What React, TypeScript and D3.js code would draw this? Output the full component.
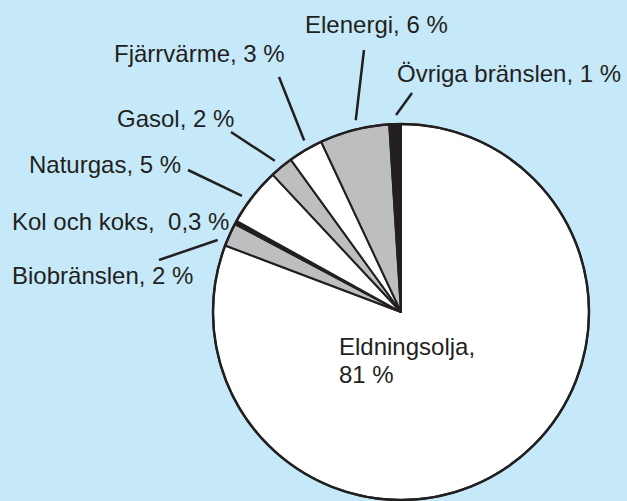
import { useEffect, useRef } from "react";
import * as d3 from "d3";

// energy source shares, clockwise from 12 o'clock
const categories = [
  "Eldningsolja",
  "Biobränslen",
  "Kol och koks",
  "Naturgas",
  "Gasol",
  "Fjärrvärme",
  "Elenergi",
  "Övriga bränslen",
];
const shares = [81, 2, 0.3, 5, 2, 3, 6, 1];
const shareLabels = ["81 %", "2 %", "0,3 %", "5 %", "2 %", "3 %", "6 %", "1 %"];
const fills = ["#ffffff", "#bcbec0", "#231f20", "#ffffff", "#bcbec0", "#ffffff", "#bcbec0", "#231f20"];

// label layout: text anchor (x, baseline y), leader line outer end,
// and where along the slice (0 = start, 1 = end) the leader points
const labelLayout = [
  { x: 339, y: 355, lead: null, at: 0.5 },
  { x: 12, y: 284, lead: [159, 260], at: 0.1 },
  { x: 12, y: 230, lead: null, at: 0.5 },
  { x: 29, y: 173, lead: [188, 170], at: 0.4 },
  { x: 117, y: 127, lead: [231, 132], at: 0.45 },
  { x: 114, y: 62, lead: [279, 77], at: 0.6 },
  { x: 305, y: 33, lead: [364, 50], at: 0.55 },
  { x: 397, y: 82, lead: [412, 93], at: 0.6 },
];

export default function App() {
  const svgRef = useRef<SVGSVGElement>(null);

  useEffect(() => {
    const width = 627;
    const height = 501;
    const cx = 401;
    const cy = 312;
    const radius = 188;
    const ink = "#231f20";

    const svg = d3.select(svgRef.current);
    svg.selectAll("*").remove();
    svg.attr("width", width).attr("height", height);

    svg.append("rect").attr("width", width).attr("height", height).attr("fill", "#c6e9f9");

    const rows = categories.map((name, i) => ({ name, value: shares[i], i }));
    const pie = d3.pie<any>().sort(null).value((d) => d.value);
    const arcs = pie(rows);
    const arc = d3.arc<any>().innerRadius(0).outerRadius(radius);

    const g = svg.append("g").attr("transform", `translate(${cx},${cy})`);

    g.selectAll("path.slice")
      .data(arcs)
      .enter()
      .append("path")
      .attr("class", "slice")
      .attr("d", arc)
      .attr("fill", (d) => fills[d.data.i])
      .attr("stroke", ink)
      .attr("stroke-width", 2)
      .attr("stroke-linejoin", "round");

    // outer rim
    g.append("circle").attr("r", radius).attr("fill", "none").attr("stroke", ink).attr("stroke-width", 2.5);

    // leader lines start just outside the rim
    const leadR = radius + 9;
    const leaders = svg.append("g").attr("stroke", ink).attr("stroke-width", 2.5);
    arcs.forEach((a) => {
      const lay = labelLayout[a.data.i];
      if (!lay.lead) return;
      const ang = a.startAngle + (a.endAngle - a.startAngle) * lay.at;
      leaders
        .append("line")
        .attr("x1", cx + leadR * Math.sin(ang))
        .attr("y1", cy - leadR * Math.cos(ang))
        .attr("x2", lay.lead[0])
        .attr("y2", lay.lead[1]);
    });

    const labels = svg
      .append("g")
      .attr("font-family", "'Liberation Sans', Arial, Helvetica, sans-serif")
      .attr("font-size", 24)
      .attr("fill", ink);

    categories.forEach((name, i) => {
      const lay = labelLayout[i];
      const t = labels.append("text").attr("x", lay.x).attr("y", lay.y).attr("xml:space", "preserve");
      if (i === 0) {
        t.append("tspan").attr("x", lay.x).text(`${name},`);
        t.append("tspan").attr("x", lay.x).attr("dy", 28).text(shareLabels[i]);
      } else if (name === "Kol och koks") {
        t.text(`${name},  ${shareLabels[i]}`);
      } else {
        t.text(`${name}, ${shareLabels[i]}`);
      }
    });
  }, []);

  return (
    <svg ref={svgRef} style={{ position: "absolute", left: 0, top: 0, display: "block" }} />
  );
}
